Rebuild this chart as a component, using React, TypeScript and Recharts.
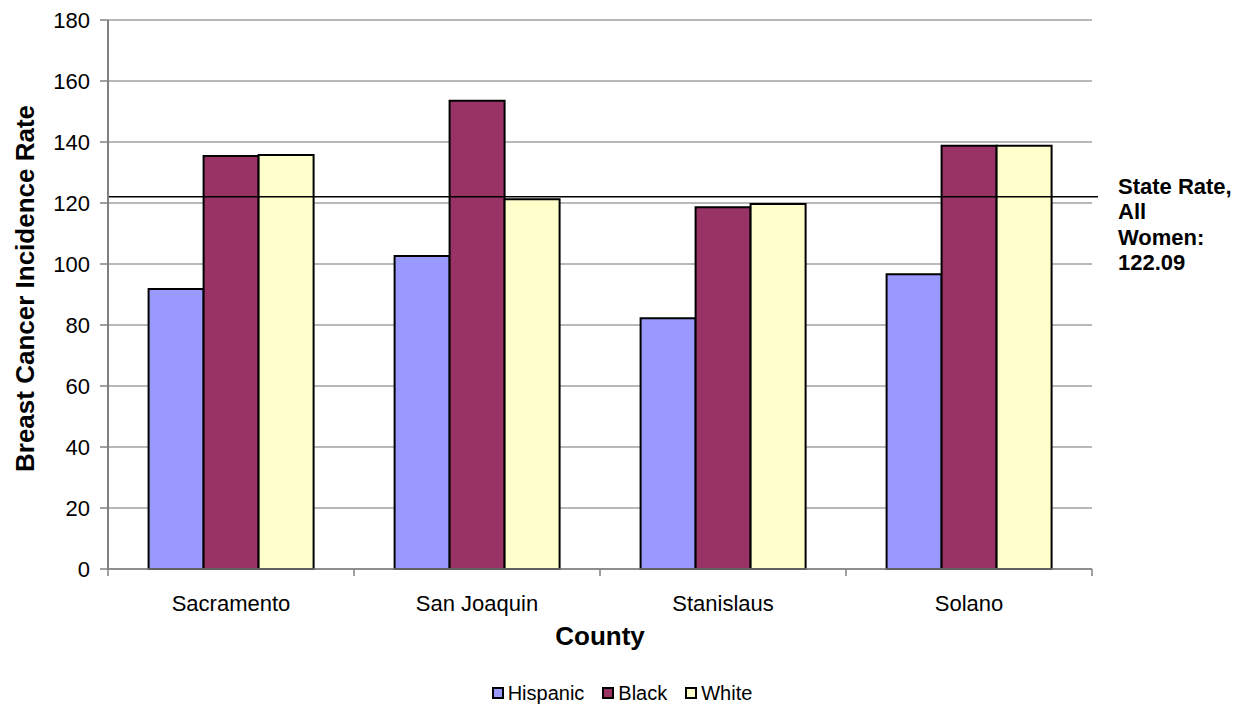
import React from "react";
import {
  BarChart,
  Bar,
  XAxis,
  YAxis,
  CartesianGrid,
  Legend,
  ReferenceLine,
} from "recharts";

const counties = ["Sacramento", "San Joaquin", "Stanislaus", "Solano"];
const hispanic = [91.8, 102.6, 82.2, 96.6];
const black = [135.4, 153.5, 118.6, 138.8];
const white = [135.7, 121.2, 119.7, 138.8];
const yTicks = [0, 20, 40, 60, 80, 100, 120, 140, 160, 180];
const stateRate = 122.09;
const stateRateLines = ["State Rate,", "All", "Women:", "122.09"];

const series = [
  { key: "Hispanic", color: "#9999FF" },
  { key: "Black", color: "#993366" },
  { key: "White", color: "#FFFFCC" },
];

const FONT = '"Liberation Sans", Arial, sans-serif';

const data = counties.map((county, i) => ({
  county,
  Hispanic: hispanic[i],
  Black: black[i],
  White: white[i],
}));

function CountyTick(props: any) {
  const { x, y, payload, index, visibleTicksCount } = props;
  const half = payload?.offset ?? 0;
  const top = y - 8;
  return (
    <g>
      <line x1={x - half} x2={x - half} y1={top} y2={top + 7} stroke="#808080" strokeWidth={1.5} />
      {index === visibleTicksCount - 1 && (
        <line x1={x + half} x2={x + half} y1={top} y2={top + 7} stroke="#808080" strokeWidth={1.5} />
      )}
      <text x={x} y={y + 34} textAnchor="middle" fontFamily={FONT} fontSize={22} fill="#000">
        {payload.value}
      </text>
    </g>
  );
}

function CountyLabel(props: any) {
  const vb = props.viewBox ?? {};
  const cx = (vb.x ?? 0) + (vb.width ?? 0) / 2;
  return (
    <text x={cx} y={(vb.y ?? 0) + 76} textAnchor="middle" fontFamily={FONT} fontSize={26} fontWeight="bold" fill="#000">
      County
    </text>
  );
}

function StateRateLabel(props: any) {
  const vb = props.viewBox ?? {};
  const x = (vb.x ?? 0) + (vb.width ?? 0) + 26;
  const y = (vb.y ?? 0) - 3;
  return (
    <text x={x} y={y} fontFamily={FONT} fontSize={22} fontWeight="bold" fill="#000">
      {stateRateLines.map((t, i) => (
        <tspan key={t} x={x} dy={i === 0 ? 0 : 25.5}>
          {t}
        </tspan>
      ))}
    </text>
  );
}

function StateRateLine(props: any) {
  const { x1, x2, y1, y2 } = props;
  return <line x1={x1} x2={x2 + 6} y1={y1} y2={y2} stroke="#000" strokeWidth={1.5} />;
}

function YLabel(props: any) {
  const vb = props.viewBox ?? {};
  const cy = (vb.y ?? 0) + (vb.height ?? 0) / 2 - 6;
  return (
    <text
      x={25}
      y={cy}
      transform={`rotate(-90, 25, ${cy})`}
      textAnchor="middle"
      dominantBaseline="central"
      fontFamily={FONT}
      fontSize={26}
      fontWeight="bold"
      fill="#000"
    >
      Breast Cancer Incidence Rate
    </text>
  );
}

function LegendContent() {
  return (
    <div
      style={{
        height: 24,
        display: "flex",
        justifyContent: "center",
        alignItems: "center",
        fontFamily: FONT,
        fontSize: 20,
        color: "#000",
        gap: 18,
      }}
    >
      {series.map((s) => (
        <span key={s.key} style={{ display: "flex", alignItems: "center" }}>
          <span
            style={{
              display: "inline-block",
              width: 8,
              height: 8,
              background: s.color,
              border: "2px solid #000",
              marginRight: 4,
            }}
          />
          {s.key}
        </span>
      ))}
    </div>
  );
}

export default function App() {
  return (
    <div style={{ position: "absolute", left: 0, top: 0, width: 1244, height: 704, background: "#fff" }}>
      <BarChart
        width={1244}
        height={704}
        data={data}
        margin={{ top: 20, right: 152, bottom: 21, left: 0 }}
        barCategoryGap="16.5%"
        barGap={0}
      >
        <CartesianGrid vertical={false} stroke="#a0a0a0" strokeWidth={1.5} />
        <XAxis
          dataKey="county"
          height={90}
          axisLine={{ stroke: "#808080", strokeWidth: 1.5 }}
          tickLine={false}
          tick={<CountyTick />}
          interval={0}
          label={<CountyLabel />}
        />
        <YAxis
          width={108}
          domain={[0, 180]}
          ticks={yTicks}
          interval={0}
          axisLine={{ stroke: "#808080", strokeWidth: 2 }}
          tickLine={{ stroke: "#808080", strokeWidth: 1.5 }}
          tickSize={8}
          tickMargin={10}
          tick={{ fontFamily: FONT, fontSize: 22, fill: "#000" }}
          label={<YLabel />}
        />
        <YAxis
          yAxisId="right"
          orientation="right"
          width={0}
          domain={[0, 180]}
          tick={false}
          tickLine={false}
          axisLine={{ stroke: "#a0a0a0", strokeWidth: 2 }}
        />
        {series.map((s) => (
          <Bar
            key={s.key}
            dataKey={s.key}
            fill={s.color}
            stroke="#000"
            strokeWidth={2}
            isAnimationActive={false}
          />
        ))}
        <ReferenceLine
          y={stateRate}
          ifOverflow="visible"
          shape={<StateRateLine />}
          label={<StateRateLabel />}
        />
        <Legend
          verticalAlign="bottom"
          content={<LegendContent />}
          wrapperStyle={{ left: 0, width: 1244, top: 681, bottom: "auto", height: 24 }}
        />
      </BarChart>
    </div>
  );
}
